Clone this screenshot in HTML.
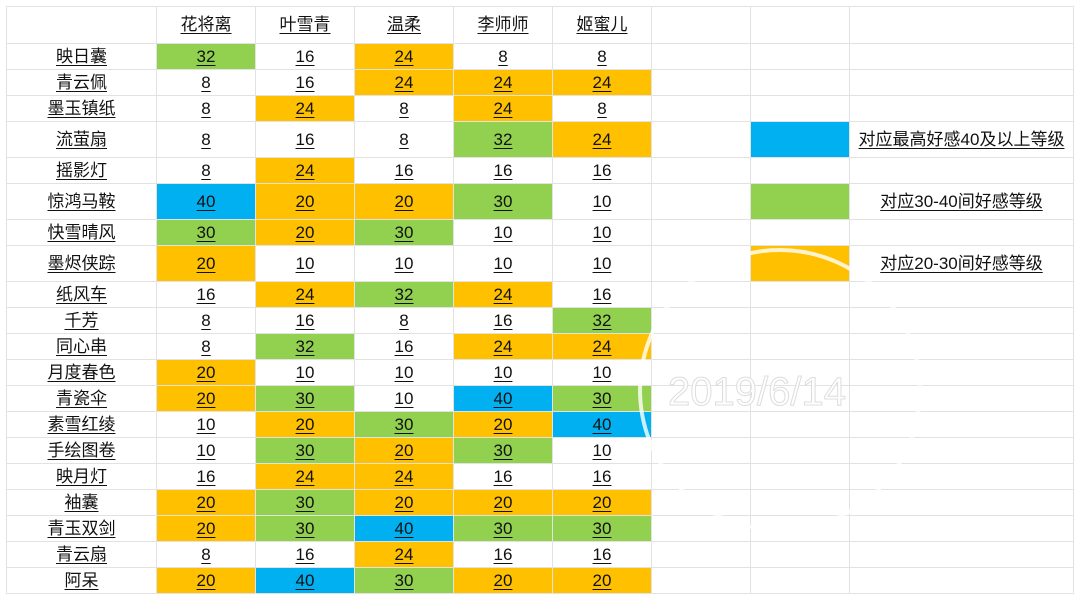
<!DOCTYPE html>
<html><head><meta charset="utf-8">
<style>
body{margin:0;background:#fff;width:1080px;height:600px;overflow:hidden;position:relative}
table{position:absolute;left:6px;top:6px;border-collapse:collapse;table-layout:fixed;font-family:"Liberation Sans","Noto Sans CJK SC",sans-serif;font-size:17px;color:#111}
td{border:1px solid #e2e2e2;text-align:center;padding:0;height:25px;line-height:20px;overflow:hidden;white-space:nowrap}
td span{text-decoration:underline;text-underline-offset:3px}
tr.t td{height:35px}
tr.h td{height:36px}
.g{background:#92d050}.o{background:#ffc000}.b{background:#00b0f0}
</style></head><body>
<table>
<colgroup><col style="width:150px"><col style="width:99px"><col style="width:99px"><col style="width:99px"><col style="width:99px"><col style="width:99px"><col style="width:99px"><col style="width:99px"><col style="width:224px"></colgroup>
<tr class="h"><td></td><td><span>花将离</span></td><td><span>叶雪青</span></td><td><span>温柔</span></td><td><span>李师师</span></td><td><span>姬蜜儿</span></td><td></td><td></td><td></td></tr>
<tr><td><span>映日囊</span></td><td class="g"><span>32</span></td><td><span>16</span></td><td class="o"><span>24</span></td><td><span>8</span></td><td><span>8</span></td><td></td><td></td><td></td></tr>
<tr><td><span>青云佩</span></td><td><span>8</span></td><td><span>16</span></td><td class="o"><span>24</span></td><td class="o"><span>24</span></td><td class="o"><span>24</span></td><td></td><td></td><td></td></tr>
<tr><td><span>墨玉镇纸</span></td><td><span>8</span></td><td class="o"><span>24</span></td><td><span>8</span></td><td class="o"><span>24</span></td><td><span>8</span></td><td></td><td></td><td></td></tr>
<tr class="t"><td><span>流萤扇</span></td><td><span>8</span></td><td><span>16</span></td><td><span>8</span></td><td class="g"><span>32</span></td><td class="o"><span>24</span></td><td></td><td class="b"></td><td><span>对应最高好感40及以上等级</span></td></tr>
<tr><td><span>摇影灯</span></td><td><span>8</span></td><td class="o"><span>24</span></td><td><span>16</span></td><td><span>16</span></td><td><span>16</span></td><td></td><td></td><td></td></tr>
<tr class="t"><td><span>惊鸿马鞍</span></td><td class="b"><span>40</span></td><td class="o"><span>20</span></td><td class="o"><span>20</span></td><td class="g"><span>30</span></td><td><span>10</span></td><td></td><td class="g"></td><td><span>对应30-40间好感等级</span></td></tr>
<tr><td><span>快雪晴风</span></td><td class="g"><span>30</span></td><td class="o"><span>20</span></td><td class="g"><span>30</span></td><td><span>10</span></td><td><span>10</span></td><td></td><td></td><td></td></tr>
<tr class="t"><td><span>墨烬侠踪</span></td><td class="o"><span>20</span></td><td><span>10</span></td><td><span>10</span></td><td><span>10</span></td><td><span>10</span></td><td></td><td class="o"></td><td><span>对应20-30间好感等级</span></td></tr>
<tr><td><span>纸风车</span></td><td><span>16</span></td><td class="o"><span>24</span></td><td class="g"><span>32</span></td><td class="o"><span>24</span></td><td><span>16</span></td><td></td><td></td><td></td></tr>
<tr><td><span>千芳</span></td><td><span>8</span></td><td><span>16</span></td><td><span>8</span></td><td><span>16</span></td><td class="g"><span>32</span></td><td></td><td></td><td></td></tr>
<tr><td><span>同心串</span></td><td><span>8</span></td><td class="g"><span>32</span></td><td><span>16</span></td><td class="o"><span>24</span></td><td class="o"><span>24</span></td><td></td><td></td><td></td></tr>
<tr><td><span>月度春色</span></td><td class="o"><span>20</span></td><td><span>10</span></td><td><span>10</span></td><td><span>10</span></td><td><span>10</span></td><td></td><td></td><td></td></tr>
<tr><td><span>青瓷伞</span></td><td class="o"><span>20</span></td><td class="g"><span>30</span></td><td><span>10</span></td><td class="b"><span>40</span></td><td class="g"><span>30</span></td><td></td><td></td><td></td></tr>
<tr><td><span>素雪红绫</span></td><td><span>10</span></td><td class="o"><span>20</span></td><td class="g"><span>30</span></td><td class="o"><span>20</span></td><td class="b"><span>40</span></td><td></td><td></td><td></td></tr>
<tr><td><span>手绘图卷</span></td><td><span>10</span></td><td class="g"><span>30</span></td><td class="o"><span>20</span></td><td class="g"><span>30</span></td><td><span>10</span></td><td></td><td></td><td></td></tr>
<tr><td><span>映月灯</span></td><td><span>16</span></td><td class="o"><span>24</span></td><td class="o"><span>24</span></td><td><span>16</span></td><td><span>16</span></td><td></td><td></td><td></td></tr>
<tr><td><span>袖囊</span></td><td class="o"><span>20</span></td><td class="g"><span>30</span></td><td class="o"><span>20</span></td><td class="o"><span>20</span></td><td class="o"><span>20</span></td><td></td><td></td><td></td></tr>
<tr><td><span>青玉双剑</span></td><td class="o"><span>20</span></td><td class="g"><span>30</span></td><td class="b"><span>40</span></td><td class="g"><span>30</span></td><td class="g"><span>30</span></td><td></td><td></td><td></td></tr>
<tr><td><span>青云扇</span></td><td><span>8</span></td><td><span>16</span></td><td class="o"><span>24</span></td><td><span>16</span></td><td><span>16</span></td><td></td><td></td><td></td></tr>
<tr><td><span>阿呆</span></td><td class="o"><span>20</span></td><td class="b"><span>40</span></td><td class="g"><span>30</span></td><td class="o"><span>20</span></td><td class="o"><span>20</span></td><td></td><td></td><td></td></tr>
</table>
<svg style="position:absolute;left:0;top:0" width="1080" height="600">
<circle cx="780" cy="390" r="140" fill="none" stroke="#fff" stroke-width="4" opacity="0.8"/>
<text x="668" y="405" font-family="Liberation Sans,sans-serif" font-size="40" fill="#fff" stroke="#ddd" stroke-width="1">2019/6/14</text>
</svg>
</body></html>
